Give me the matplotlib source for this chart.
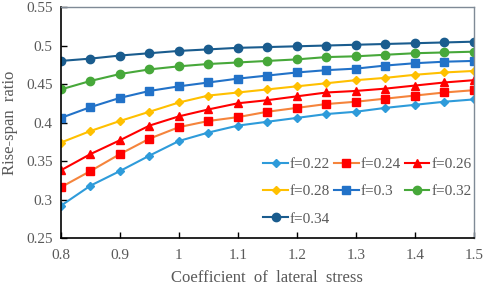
import numpy as np
import matplotlib
matplotlib.use('Agg')
import matplotlib.pyplot as plt

# coefficient of lateral stress
x = [0.8, 0.85, 0.9, 0.95, 1.0, 1.05, 1.1, 1.15, 1.2, 1.25, 1.3, 1.35, 1.4, 1.45, 1.5]

f022 = [0.292, 0.318, 0.337, 0.357, 0.376, 0.387, 0.396, 0.401, 0.406, 0.411, 0.414, 0.419, 0.423, 0.427, 0.430]
f024 = [0.316, 0.337, 0.359, 0.379, 0.394, 0.402, 0.407, 0.414, 0.419, 0.424, 0.427, 0.431, 0.435, 0.439, 0.442]
f026 = [0.338, 0.359, 0.377, 0.396, 0.408, 0.417, 0.425, 0.429, 0.434, 0.439, 0.441, 0.444, 0.448, 0.452, 0.455]
f028 = [0.374, 0.389, 0.402, 0.414, 0.426, 0.435, 0.439, 0.443, 0.447, 0.451, 0.455, 0.458, 0.462, 0.465, 0.467]
f030 = [0.406, 0.420, 0.432, 0.441, 0.447, 0.452, 0.457, 0.461, 0.465, 0.468, 0.470, 0.474, 0.477, 0.479, 0.480]
f032 = [0.443, 0.454, 0.463, 0.469, 0.473, 0.476, 0.478, 0.480, 0.482, 0.485, 0.486, 0.488, 0.490, 0.491, 0.492]
f034 = [0.480, 0.483, 0.487, 0.490, 0.493, 0.495, 0.497, 0.498, 0.499, 0.500, 0.501, 0.502, 0.503, 0.504, 0.505]

labels = ['f=0.22', 'f=0.24', 'f=0.26', 'f=0.28', 'f=0.3', 'f=0.32', 'f=0.34']
series = [f022, f024, f026, f028, f030, f032, f034]
line_colors = ['#2E9BDA', '#F5843C', '#FF0000', '#FFC000', '#2272C8', '#47A83A', '#1A5C8E']
marker_colors = ['#2E9BDA', '#FF0000', '#FF0000', '#FFC000', '#2272C8', '#47A83A', '#1A5C8E']
markers = ['D', 's', '^', 'D', 's', 'o', 'o']
msizes = [4.5, 6, 6, 4.5, 6, 6, 6]

plt.rcParams['font.family'] = ['Liberation Serif', 'DejaVu Serif']

fig = plt.figure(figsize=(4.84, 2.88), dpi=100)
ax = fig.add_axes([0.126, 0.1736, 0.853, 0.802])

handles = []
for ys, lab, lc, mc, m, ms in zip(series, labels, line_colors, marker_colors, markers, msizes):
    h, = ax.plot(x, ys, color=lc, linewidth=1.5, marker=m, markersize=ms,
                 markerfacecolor=mc, markeredgecolor=mc, label=lab)
    handles.append(h)

ax.set_xlim(0.8, 1.5)
ax.set_ylim(0.25, 0.55)
ax.set_xticks([0.8, 0.9, 1.0, 1.1, 1.2, 1.3, 1.4, 1.5])
ax.set_xticklabels(['0.8', '0.9', '1', '1.1', '1.2', '1.3', '1.4', '1.5'])
ax.set_yticks([0.25, 0.3, 0.35, 0.4, 0.45, 0.5, 0.55])
ax.set_yticklabels(['0.25', '0.3', '0.35', '0.4', '0.45', '0.5', '0.55'])
ax.tick_params(direction='in', length=4, width=1, labelsize=11, labelcolor='#595959', color='black')
ax.tick_params(axis='x', pad=8)
ax.tick_params(axis='y', pad=6)

for s in ['left', 'bottom']:
    ax.spines[s].set_color('black')
    ax.spines[s].set_linewidth(1.2)
for s in ['top', 'right']:
    ax.spines[s].set_color('#7F8A96')
    ax.spines[s].set_linewidth(1.0)

ax.set_xlabel('Coefficient  of  lateral  stress', fontsize=12, color='#595959', labelpad=6)
ax.set_ylabel('Rise-span  ratio', fontsize=12, color='#595959', labelpad=6)

# row-major order for 3 columns
order = [0, 3, 6, 1, 4, 2, 5]
leg = ax.legend([handles[i] for i in order], [labels[i] for i in order],
                ncol=3, loc='upper left', bbox_to_anchor=(0.49, 0.35), frameon=False,
                fontsize=11, handlelength=1.6, handletextpad=0.15, columnspacing=0.25,
                labelspacing=0.9, borderpad=0, borderaxespad=0, labelcolor='#595959')

fig.savefig('out.png', dpi=100)
